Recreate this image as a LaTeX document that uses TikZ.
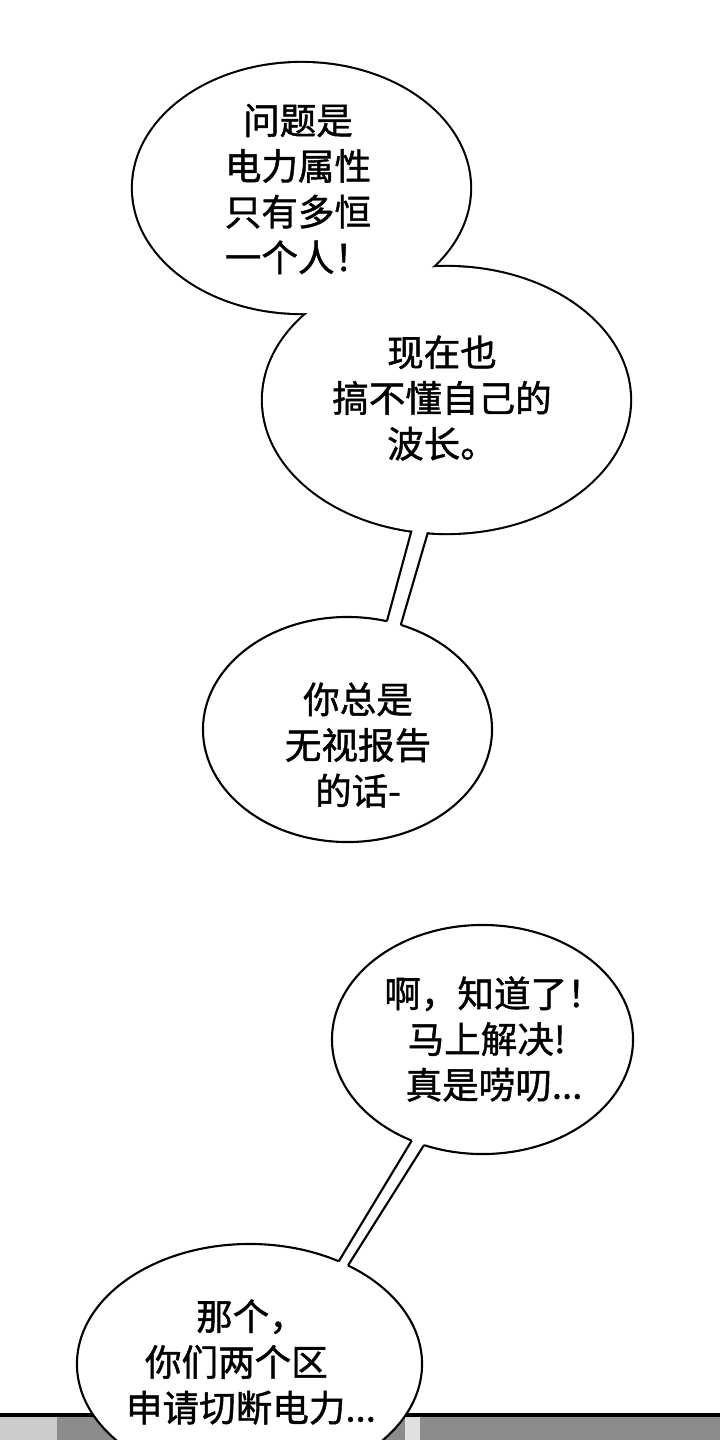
\documentclass[tikz,border=0pt]{standalone}
\usepackage{fontspec}
\setmainfont{Noto Sans CJK SC}[FakeBold=1.2]
\usetikzlibrary{shapes.geometric,calc}

\begin{document}
\begin{tikzpicture}[x=0.025cm, y=-0.025cm,
	bubble/.style={ellipse, draw, fill=white, line width=1.5pt, inner sep=0pt, outer sep=0pt},
	cover/.style={ellipse, fill=white, inner sep=0pt, outer sep=0pt},
	words/.style={align=center, font=\fontsize{26}{32.5}\selectfont},
	tail/.style={line width=1.5pt}]
	\useasboundingbox (0, 0) rectangle (720, 1440);
	\clip (0, 0) rectangle (720, 1440);

	\fill[black!45] (0, 1415) rectangle (720, 1440);
	\fill[black!20] (0, 1415) rectangle (57, 1440);
	\fill[black!12] (405, 1415) rectangle (420, 1440);
	\draw[line width=2.6pt] (0, 1415) -- (720, 1415);

	\node[bubble, line width=3pt, minimum width=8.425cm, minimum height=6.25cm] (b1) at (301.5, 188) {};
	\node[bubble, line width=3pt, minimum width=9.175cm, minimum height=6.65cm] (b2) at (446.5, 400) {};
	\node[cover, minimum width=8.425cm, minimum height=6.25cm] (b1f) at (b1) {};
	\node[cover, minimum width=9.175cm, minimum height=6.65cm] (b2f) at (b2) {};

	\node[bubble, minimum width=7.225cm, minimum height=5.625cm] (b3) at (347.5, 729.5) {};
	\node[bubble, minimum width=7.525cm, minimum height=5.725cm] (b4) at (482.5, 1039.5) {};
	\node[bubble, minimum width=8.625cm, minimum height=6cm] (b5) at (249.5, 1364) {};

	\fill[white] ($(b2.255.8)!-6pt!(b3.70)$) -- ($(b2.262.1)!-6pt!(b3.63.5)$) -- ($(b3.63.5)!-6pt!(b2.262.1)$) -- ($(b3.70)!-6pt!(b2.255.8)$) -- cycle;
	\draw[tail] (b2.255.8) -- (b3.70);
	\draw[tail] (b2.262.1) -- (b3.63.5);

	\fill[white] ($(b4.235.6)!-6pt!(b5.49.7)$) -- ($(b4.241.4)!-6pt!(b5.45.4)$) -- ($(b5.45.4)!-6pt!(b4.241.4)$) -- ($(b5.49.7)!-6pt!(b4.235.6)$) -- cycle;
	\draw[tail] (b4.235.6) -- (b5.49.7);
	\draw[tail] (b4.241.4) -- (b5.45.4);

	\node[words] (t1) at (298, 189) {问题是\\电力属性\\只有多恒\\一个人！};
	\node[words] (t2) at (442, 398) {现在也\\搞不懂自己的\\波长。};
	\node[words] (t3) at (358, 745) {你总是\\无视报告\\的话-};
	\node[words] (t4) at (494, 1039) {啊，知道了！\\马上解决!\hspace{0.4em}\mbox{}\\真是唠叨...};
	\node[words] (t5) at (251, 1362) {那个，\\你们两个区\hspace{0.8em}\mbox{}\\申请切断电力...};

\end{tikzpicture}
\end{document}
